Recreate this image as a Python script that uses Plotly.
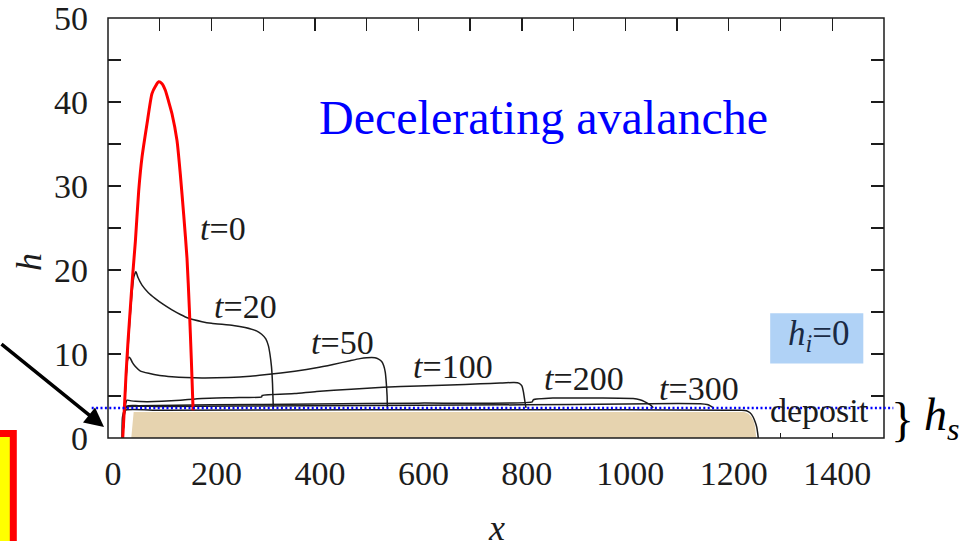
import plotly.graph_objects as go

# ---- data ----
x_t0 = [28.5, 31.6, 34.8, 38.7, 43.2, 47.7, 52.9, 59.3, 65.7, 75.4, 85, 92, 98, 104, 110.8, 117, 123.7, 133.4, 139.8, 146.3, 152.7, 157.2, 161, 164.5]
h_t0 = [0, 3.5, 7.5, 11.5, 15.5, 19.4, 23.4, 29.4, 33.4, 37.4, 41.0, 41.9, 42.4, 42.2, 41.4, 40.1, 38.6, 35.4, 31.4, 26.6, 21.4, 15.5, 9.5, 3.3]

x_t20 = [28.5, 34, 40, 46, 50, 54, 58, 65.7, 78, 91.5, 107, 123.7, 140, 156, 181.7, 200, 242, 265, 287, 297, 305, 310, 313, 316, 318, 319.5]
h_t20 = [0, 6, 12, 17, 19.2, 19.8, 19.1, 18.2, 17.3, 16.6, 15.9, 15.25, 14.7, 14.25, 13.85, 13.65, 13.4, 13.15, 12.75, 12.35, 11.8, 11.0, 10.0, 8.5, 6.5, 3.6]

x_t50 = [28.5, 33, 37, 40, 43, 47, 52.9, 62, 78.6, 100, 123.7, 150, 181.7, 232, 275, 307, 361, 403, 435, 468, 487, 500, 516, 523, 529, 533, 536, 538, 539.5, 540]
h_t50 = [0, 5, 9.0, 9.6, 9.5, 9.0, 8.5, 8.0, 7.7, 7.45, 7.3, 7.2, 7.15, 7.2, 7.35, 7.55, 7.95, 8.35, 8.75, 9.2, 9.45, 9.55, 9.55, 9.4, 9.1, 8.6, 7.8, 6.5, 5.0, 3.6]

x_t100 = [28.5, 32, 36.7, 45, 52.9, 75, 104, 140, 181.7, 240, 297, 298, 361, 403, 470, 532, 600, 661, 720, 758, 785, 795, 800, 803, 806, 808]
h_t100 = [0, 3.2, 4.5, 4.42, 4.37, 4.33, 4.37, 4.5, 4.7, 4.8, 4.9, 5.08, 5.3, 5.55, 5.8, 6.05, 6.18, 6.3, 6.45, 6.55, 6.6, 6.5, 6.2, 5.5, 4.3, 3.6]

x_t200 = [28.5, 32, 36, 60, 200, 400, 600, 820, 822, 860, 950, 1015, 1028, 1038, 1045, 1050, 1054]
h_t200 = [0, 3.0, 3.8, 3.85, 3.95, 4.05, 4.15, 4.3, 4.55, 4.75, 4.75, 4.69, 4.55, 4.3, 4.05, 3.85, 3.6]

x_t300 = [28.5, 32, 36, 100, 400, 800, 1000, 1100, 1145, 1158, 1165, 1170]
h_t300 = [0, 3.0, 3.7, 3.75, 3.85, 3.95, 4.05, 4.1, 4.08, 3.98, 3.8, 3.6]

x_dep = [27, 28, 32, 100, 500, 1000, 1200, 1225, 1234, 1241, 1247, 1251, 1254, 1256, 1257]
h_dep = [0, 2.5, 3.3, 3.3, 3.35, 3.35, 3.3, 3.3, 3.25, 3.0, 2.5, 1.9, 1.3, 0.5, 0]

x_fill = [45, 49.6, 1230, 1238, 1244, 1248, 1251, 1252.5, 1253, 45]
h_fill = [0, 3.1, 3.1, 2.9, 2.5, 2.0, 1.3, 0.6, 0, 0]

h_s = 3.57
x_range = [0, 1500]
y_range = [0, 50]
x_ticks = [0, 200, 400, 600, 800, 1000, 1200, 1400]
y_ticks = [0, 10, 20, 30, 40, 50]

curve_labels = ["<i>t</i>=0", "<i>t</i>=20", "<i>t</i>=50", "<i>t</i>=100", "<i>t</i>=200", "<i>t</i>=300"]
label_x = [222, 265, 454, 667, 920, 1142]
label_y = [24.9, 15.7, 11.4, 8.5, 7.1, 5.9]

SERIF = "Liberation Serif"
INK = "#1c1c1c"

fig = go.Figure()
fig.add_trace(go.Scatter(x=x_fill, y=h_fill, fill="toself", fillcolor="#E6D3AF",
                         line=dict(width=0), mode="lines", hoverinfo="skip"))
for xs, hs in [(x_t20, h_t20), (x_t50, h_t50), (x_t100, h_t100), (x_t200, h_t200),
               (x_t300, h_t300), (x_dep, h_dep)]:
    fig.add_trace(go.Scatter(x=xs, y=hs, mode="lines",
                             line=dict(color=INK, width=1.5, shape="spline", smoothing=0.5)))
fig.add_trace(go.Scatter(x=x_t0, y=h_t0, mode="lines", xaxis="x2",
                         line=dict(color="#FF0000", width=3, shape="spline", smoothing=0.6)))

# plot area at window pixels x 108..884, y 18..438 (page body margin removed below)
W, H = 977, 541
L, T = 108, 18
R = W - 884
B = H - 438
pw, ph = W - L - R, H - T - B

def px(xp):
    return (xp - L) / pw

def py(yp):
    return (H - B - yp) / ph

tickfont = dict(family=SERIF, size=34, color=INK)
fig.update_layout(
    width=W, height=H, margin=dict(l=L, r=R, t=T, b=B, autoexpand=False),
    paper_bgcolor="white", plot_bgcolor="white", showlegend=False,
    xaxis=dict(range=x_range, tickvals=x_ticks, ticks="inside", ticklen=5, tickwidth=1.3,
               tickcolor=INK, showgrid=False, zeroline=False, showline=False, automargin=False,
               tickfont=tickfont, ticklabelshift=5, ticklabelstandoff=12,
               minor=dict(dtick=100, ticks="inside", ticklen=5, tickwidth=1.3, tickcolor=INK),
               layer="below traces"),
    xaxis2=dict(range=x_range, overlaying="x", side="top", matches="x", tickvals=x_ticks,
                ticks="inside", ticklen=13, tickwidth=1.3, tickcolor=INK, showticklabels=False,
                showgrid=False, zeroline=False, showline=False, automargin=False,
                minor=dict(dtick=100, ticks="inside", ticklen=13, tickwidth=1.3, tickcolor=INK)),
    yaxis=dict(range=y_range, tickvals=y_ticks, ticks="inside", ticklen=13, tickwidth=1.3,
               tickcolor=INK, showgrid=False, zeroline=False, showline=False, mirror="allticks",
               tickfont=tickfont, ticklabelstandoff=19, automargin=False,
               ticklabeloverflow="allow",
               minor=dict(dtick=5, ticks="inside", ticklen=9, tickwidth=1.3, tickcolor=INK),
               layer="below traces"),
)

shapes = [
    dict(type="rect", xref="x", yref="y", x0=1280, x1=1460, y0=8.87, y1=14.86,
         fillcolor="#B0D2F6", line=dict(width=0), layer="below"),
    dict(type="rect", xref="paper", yref="paper", x0=0, x1=1, y0=0, y1=1,
         line=dict(color=INK, width=1.5), layer="above"),
    dict(type="line", xref="paper", yref="paper", x0=px(91.7), x1=px(893.3),
         y0=h_s / y_range[1], y1=h_s / y_range[1],
         line=dict(color="#0000FF", width=2.5, dash="2px,2.4px"), layer="above"),
    dict(type="rect", xref="paper", yref="paper", x0=px(-30), x1=px(13.3), y0=py(560), y1=py(433.5),
         fillcolor="#FFFF00", line=dict(color="#FF0000", width=7), layer="above"),
]
fig.update_layout(shapes=shapes)

ann = []
for txt, lx, ly in zip(curve_labels, label_x, label_y):
    ann.append(dict(x=lx, y=ly, xref="x", yref="y", text=txt, showarrow=False,
                    font=dict(family=SERIF, size=34, color=INK), xanchor="center", yanchor="middle"))
ann.append(dict(x=842, y=38.1, xref="x", yref="y", text="Decelerating avalanche", showarrow=False,
                font=dict(family=SERIF, size=48, color="#0000FF"), xanchor="center", yanchor="middle"))
ann.append(dict(x=1375, y=3.3, xref="x", yref="y", text="deposit", showarrow=False,
                font=dict(family=SERIF, size=34, color=INK), xanchor="center", yanchor="middle"))
ann.append(dict(x=1374, y=12.2, xref="x", yref="y", text="<i>h</i><sub><i>i</i></sub>=0", showarrow=False,
                font=dict(family=SERIF, size=35, color="#1a2a44"), xanchor="center", yanchor="middle"))
ann.append(dict(x=px(496), y=py(528), xref="paper", yref="paper", text="<i>x</i>", showarrow=False,
                font=dict(family=SERIF, size=36, color=INK), xanchor="center", yanchor="middle"))
ann.append(dict(x=px(29), y=py(262), xref="paper", yref="paper", text="<i>h</i>", showarrow=False,
                textangle=-90, font=dict(family=SERIF, size=36, color=INK), xanchor="center", yanchor="middle"))
ann.append(dict(x=px(903), y=py(419), xref="paper", yref="paper", text="}", showarrow=False,
                font=dict(family=SERIF, size=48, color="black"), xanchor="center", yanchor="middle"))
ann.append(dict(x=px(922), y=py(418), xref="paper", yref="paper", text="<i>h</i><sub><i>s</i></sub>",
                showarrow=False, font=dict(family=SERIF, size=46, color="black"),
                xanchor="left", yanchor="middle"))
ann.append(dict(x=px(104), y=py(427), xref="paper", yref="paper", text="", showarrow=True,
                ax=-112, ay=-84, arrowhead=2, arrowsize=1.1, arrowwidth=3.5, arrowcolor="black"))
fig.update_layout(annotations=ann)

fig.write_html("out.html", config={"displayModeBar": False, "staticPlot": True},
               post_script="document.body.style.margin='0';document.body.style.overflow='hidden';")
